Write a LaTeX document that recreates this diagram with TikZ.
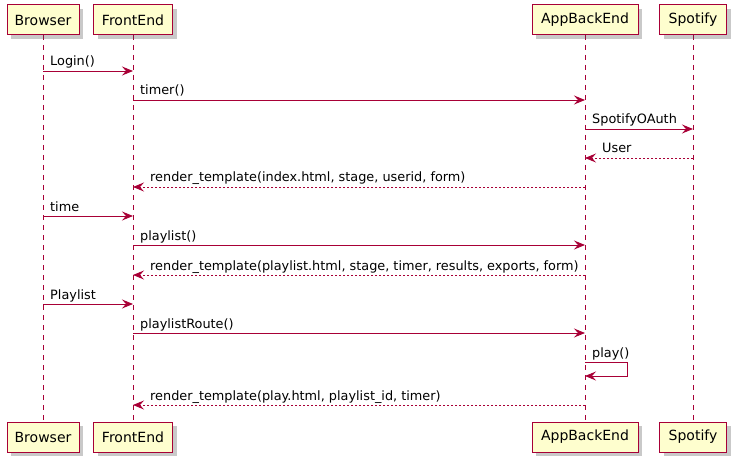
\documentclass[tikz,border=0pt]{standalone}
\usepackage{fontspec}
\setmainfont{DejaVu Sans}
\usetikzlibrary{arrows.meta,shadows}
\definecolor{pfill}{HTML}{FEFECE}
\definecolor{pline}{HTML}{A80036}
\begin{document}
\begin{tikzpicture}[x=1pt,y=-1pt,
  part/.style={draw=pline,line width=1pt,fill=pfill,minimum height=30pt,inner sep=0pt,
    font=\fontsize{14}{16}\selectfont,
    drop shadow={shadow xshift=4pt,shadow yshift=-4pt,opacity=0.3,fill=black!70}},
  life/.style={draw=pline,line width=1pt,dash pattern=on 5pt off 5pt},
  msg/.style={draw=pline,line width=0.9pt,-{Stealth[length=11pt,width=9pt,inset=4pt]}},
  ret/.style={msg,dash pattern=on 2pt off 2pt},
  lbl/.style={font=\fontsize{12.85}{15}\selectfont,inner sep=0pt,anchor=base west}]
\useasboundingbox (0,0) rectangle (738,465);
% lifelines
\foreach \n/\x in {B/43,F/133,A/585,S/693}{
  \coordinate (\n top) at (\x,35);
  \coordinate (\n bot) at (\x,421);
  \draw[life] (\n top) -- (\n bot);
}
% participants
\node[part,minimum width=72pt] (Bt) at (43,20) {Browser};
\node[part,minimum width=79pt] (Ft) at (133,20) {FrontEnd};
\node[part,minimum width=106pt] (At) at (585,20) {AppBackEnd};
\node[part,minimum width=67pt] (St) at (693,20) {Spotify};
\node[part,minimum width=72pt] (Bb) at (43,437) {Browser};
\node[part,minimum width=79pt] (Fb) at (133,437) {FrontEnd};
\node[part,minimum width=106pt] (Ab) at (585,437) {AppBackEnd};
\node[part,minimum width=67pt] (Sb) at (693,437) {Spotify};
% message endpoints
\foreach \i/\y in {1/71,2/100,3/129,4/158,5/187,6/216,7/245,8/275,9/304,10/333,11/362,12/376,13/405}{
  \foreach \n/\x in {B/43,F/133,A/585,S/693}{
    \coordinate (\n\i) at (\x,\y);
  }
}
\draw[msg] (B1) -- (F1);
\node[lbl] at (50,66) {Login()};
\draw[msg] (F2) -- (A2);
\node[lbl] at (140,95) {timer()};
\draw[msg] (A3) -- (S3);
\node[lbl] at (592,124) {SpotifyOAuth};
\draw[ret] (S4) -- (A4);
\node[lbl] at (602,153) {User};
\draw[ret] (A5) -- (F5);
\node[lbl] at (150,182) {render\_template(index.html, stage, userid, form)};
\draw[msg] (B6) -- (F6);
\node[lbl] at (50,211) {time};
\draw[msg] (F7) -- (A7);
\node[lbl] at (140,240) {playlist()};
\draw[ret] (A8) -- (F8);
\node[lbl] at (150,270) {render\_template(playlist.html, stage, timer, results, exports, form)};
\draw[msg] (B9) -- (F9);
\node[lbl] at (50,299) {Playlist};
\draw[msg] (F10) -- (A10);
\node[lbl] at (140,328) {playlistRoute()};
\coordinate (L1) at (627,362);
\coordinate (L2) at (627,376);
\draw[msg] (A11) -- (L1) -- (L2) -- (A12);
\node[lbl] at (592,357) {play()};
\draw[ret] (A13) -- (F13);
\node[lbl] at (150,400) {render\_template(play.html, playlist\_id, timer)};
\end{tikzpicture}
\end{document}
